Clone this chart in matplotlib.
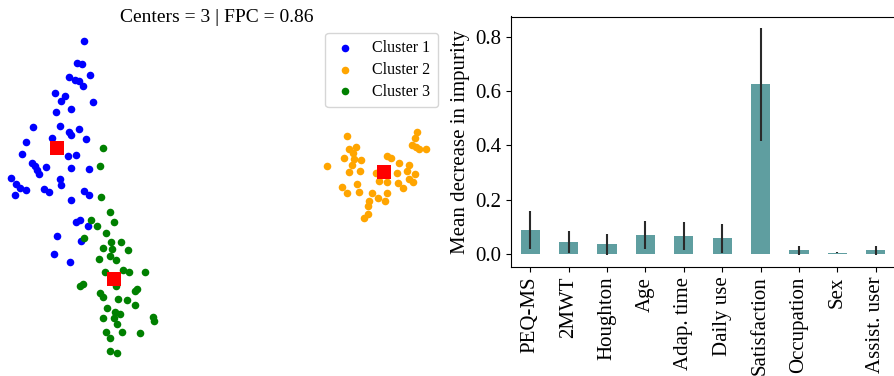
import matplotlib
matplotlib.use("Agg")
import matplotlib.pyplot as plt
import numpy as np

plt.rcParams['font.family'] = ['Liberation Serif', 'DejaVu Serif']

# ---------------- Left panel data ----------------
c1_x = [0.84, 0.77, 0.82, 0.69, 0.75, 0.79, 0.90, 0.83, 0.55, 0.65, 0.61, 0.93,
        0.56, 0.71, 0.33, 0.60, 0.69, 0.71, 0.79, 0.52, 0.86, 0.26, 0.22, 0.68,
        0.76, 0.32, 0.35, 0.46, 0.71, 0.89, 0.37, 0.39, 0.11, 0.16, 0.20, 0.26,
        0.15, 0.60, 0.61, 0.44, 0.49, 0.84, 0.89, 0.71, 0.76, 0.80, 0.88, 0.57,
        0.81, 0.54, 0.70]
c1_y = [3.35, 3.13, 3.12, 2.99, 2.96, 2.95, 3.01, 2.90, 2.83, 2.80, 2.75, 2.74,
        2.64, 2.67, 2.49, 2.50, 2.44, 2.41, 2.47, 2.38, 2.37, 2.34, 2.22, 2.20,
        2.21, 2.13, 2.10, 2.09, 2.08, 2.07, 2.06, 2.02, 1.98, 1.92, 1.88, 1.86,
        1.81, 1.97, 1.91, 1.87, 1.84, 1.85, 1.81, 1.76, 1.54, 1.56, 1.50, 1.40,
        1.35, 1.22, 1.14]
c2_x = [3.47, 4.17, 4.15, 4.12, 4.16, 4.19, 4.26, 3.49, 3.56, 3.53, 3.44, 3.54,
        3.61, 3.87, 3.91, 3.27, 3.52, 3.99, 4.09, 3.49, 3.60, 3.76, 3.97, 4.07,
        4.15, 3.79, 3.87, 3.98, 4.09, 4.13, 3.42, 3.57, 4.03, 3.47, 3.59, 3.72,
        3.87, 3.78, 3.85, 3.69, 3.68, 3.68, 3.64]
c2_y = [2.40, 2.44, 2.38, 2.31, 2.29, 2.27, 2.27, 2.27, 2.29, 2.23, 2.18, 2.17,
        2.16, 2.20, 2.18, 2.10, 2.11, 2.13, 2.11, 2.04, 2.05, 2.03, 2.03, 2.05,
        2.02, 1.95, 1.94, 1.93, 1.97, 1.94, 1.89, 1.92, 1.88, 1.83, 1.84, 1.83,
        1.83, 1.78, 1.75, 1.75, 1.70, 1.62, 1.58]
c3_x = [1.03, 1.00, 1.01, 1.10, 1.14, 0.91, 0.97, 1.06, 0.84, 1.11, 1.21, 1.03,
        1.12, 1.28, 1.10, 0.99, 1.16, 1.05, 1.23, 1.29, 1.45, 0.80, 0.83, 1.16,
        1.37, 1.35, 1.00, 1.03, 1.18, 1.27, 1.35, 1.07, 1.15, 1.20, 1.03, 1.14,
        1.53, 1.54, 1.17, 1.06, 1.22, 1.40, 1.10, 1.10, 1.17]
c3_y = [2.28, 2.10, 1.79, 1.64, 1.54, 1.56, 1.50, 1.43, 1.38, 1.34, 1.34, 1.28,
        1.27, 1.26, 1.20, 1.17, 1.16, 1.04, 1.06, 1.04, 1.04, 0.90, 0.92, 0.90,
        0.87, 0.85, 0.83, 0.79, 0.77, 0.76, 0.71, 0.68, 0.64, 0.62, 0.58, 0.58,
        0.59, 0.55, 0.52, 0.44, 0.44, 0.43, 0.38, 0.25, 0.23]
centers_x = [0.57, 3.84, 1.14]
centers_y = [2.28, 2.04, 0.97]
cluster_names = ["Cluster 1", "Cluster 2", "Cluster 3"]
cluster_colors = ["blue", "orange", "green"]
title_text = "Centers = 3 | FPC = 0.86"

# ---------------- Right panel data ----------------
features = ["PEQ-MS", "2MWT", "Houghton", "Age", "Adap. time", "Daily use",
            "Satisfaction", "Occupation", "Sex", "Assist. user"]
importances = [0.087, 0.044, 0.035, 0.070, 0.065, 0.058, 0.625, 0.013, 0.005, 0.013]
stds = [0.070, 0.042, 0.038, 0.050, 0.052, 0.054, 0.208, 0.015, 0.003, 0.016]

W, H = 895, 376
fig = plt.figure(figsize=(W / 100, H / 100), dpi=100)

# Left axes, pixel-based placement
lx0, lx1, ly0, ly1 = -10, 445, 376, 26  # left, right, bottom, top (pixels from top)
ax1 = fig.add_axes([lx0 / W, 1 - ly0 / H, (lx1 - lx0) / W, (ly0 - ly1) / H])
for xs, ys, name, col in zip([c1_x, c2_x, c3_x], [c1_y, c2_y, c3_y],
                             cluster_names, cluster_colors):
    ax1.scatter(xs, ys, s=30, color=col, label=name, linewidths=0)
ax1.scatter(centers_x, centers_y, s=105, marker='s', color='red', linewidths=0)
ax1.set_xlim(lx0 / 100, lx1 / 100)
ax1.set_ylim((376 - ly0) / 100, (376 - ly1) / 100)
ax1.axis('off')
ax1.set_title(title_text, fontsize=14, pad=3, x=(217 - lx0) / (lx1 - lx0))
ax1.legend(loc='upper right', fontsize=11.5, handletextpad=0.9, borderpad=0.45,
           labelspacing=0.35, handlelength=1.6, borderaxespad=0.45)

# Right axes
rx0, rx1, ry0, ry1 = 511, 895, 267, 16.5
ax2 = fig.add_axes([rx0 / W, 1 - ry0 / H, (rx1 - rx0) / W, (ry0 - ry1) / H])
x = np.arange(len(features))
ax2.bar(x, importances, width=0.5, color='cadetblue', yerr=stds,
        error_kw=dict(ecolor='#2a2a2a', elinewidth=1.5, capsize=0))
ax2.set_xlim(-0.5, len(features) - 0.5)
ax2.set_ylim(-0.048, 0.875)
ax2.set_yticks([0.0, 0.2, 0.4, 0.6, 0.8])
ax2.set_xticks(x)
ax2.set_xticklabels(features, rotation=90, fontsize=15)
ax2.tick_params(axis='y', labelsize=15)
ax2.set_ylabel("Mean decrease in impurity", fontsize=15)
ax2.spines['right'].set_visible(False)

fig.savefig("out.png", dpi=100)
